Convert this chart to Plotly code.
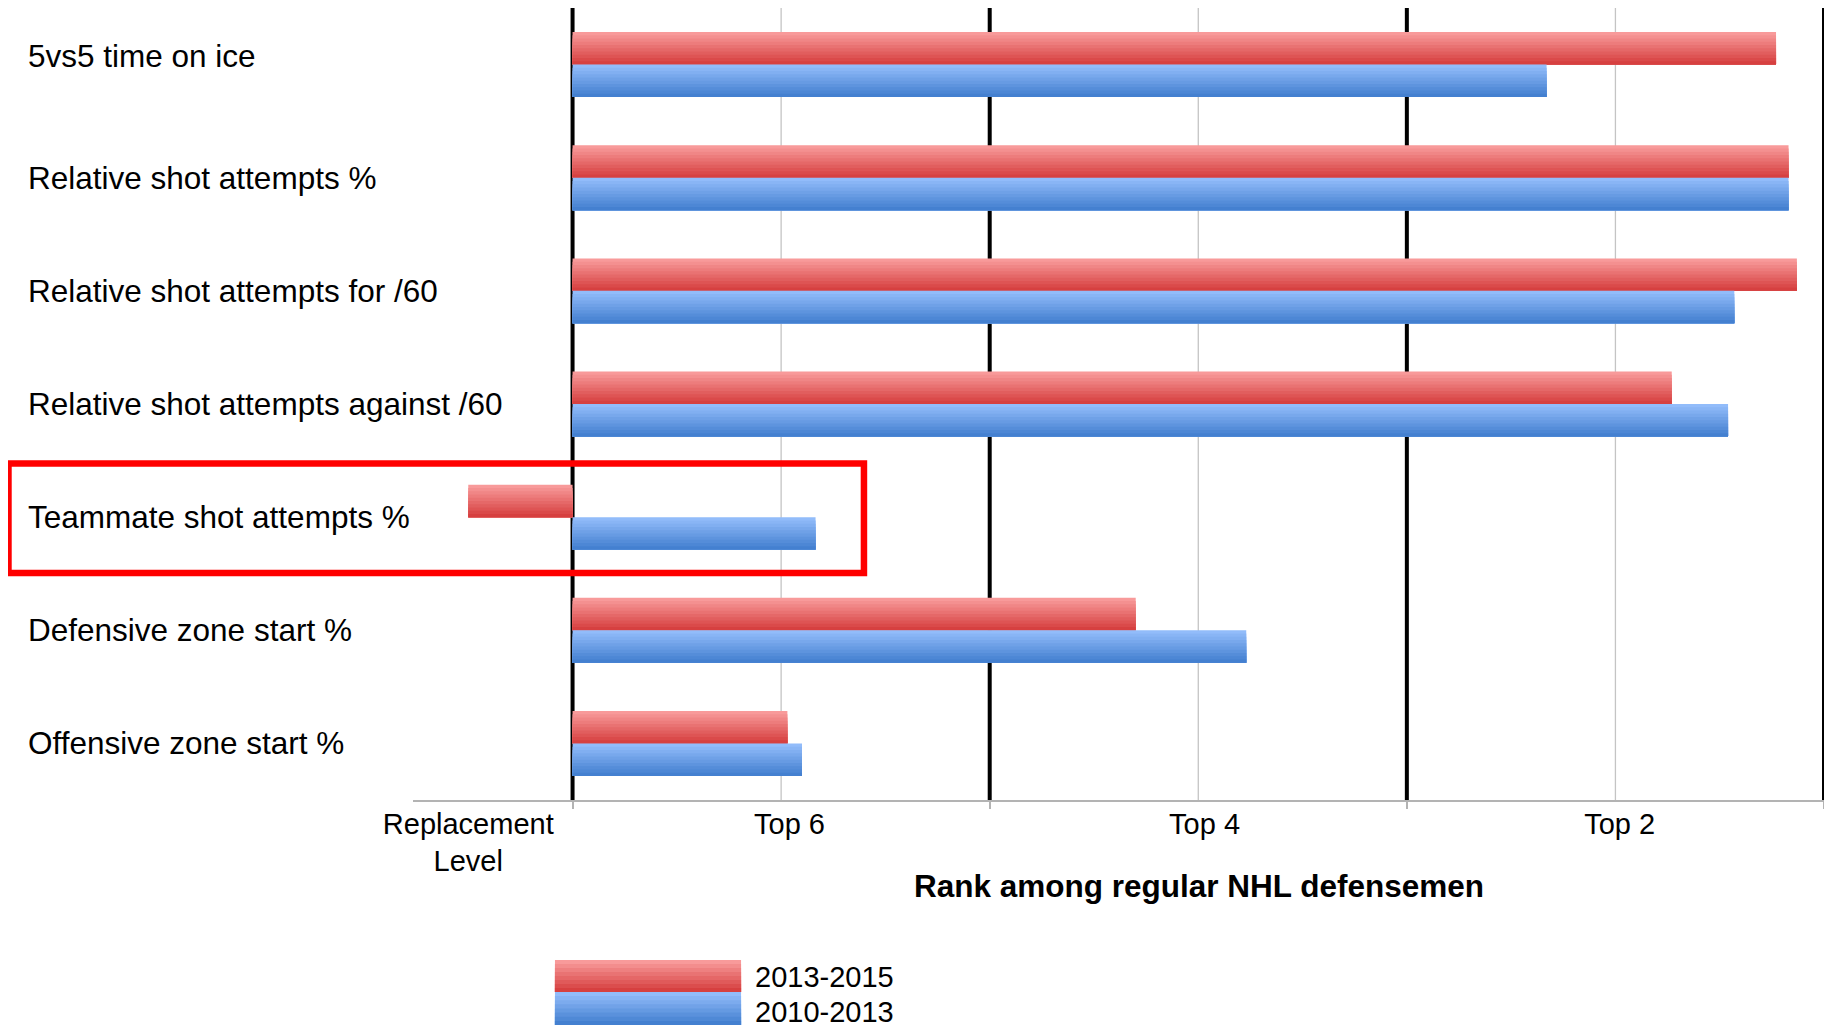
import plotly.graph_objects as go

# ---------------- data ----------------
categories = [
    "5vs5 time on ice",
    "Relative shot attempts %",
    "Relative shot attempts for /60",
    "Relative shot attempts against /60",
    "Teammate shot attempts %",
    "Defensive zone start %",
    "Offensive zone start %",
]
series_names = ["2013-2015", "2010-2013"]
# rank scale: 0 = replacement level, 1 = top 6, 3 = top 4, 5 = top 2
values_2013_2015 = [5.77, 5.83, 5.87, 5.27, -0.50, 2.70, 1.03]
values_2010_2013 = [4.67, 5.83, 5.57, 5.54, 1.165, 3.23, 1.10]

tick_positions = [-0.5, 1.04, 3.03, 5.02]
tick_labels = ["Replacement<br>Level", "Top 6", "Top 4", "Top 2"]
major_lines = [0, 2, 4, 6]
minor_lines = [1, 3, 5]
x_axis_title = "Rank among regular NHL defensemen"

FONT = "Liberation Sans, Arial, sans-serif"

# gradient endpoints (top -> bottom)
red_grad = ((248, 154, 154), (214, 64, 64))
blue_grad = ((146, 188, 250), (68, 128, 208))


def lerp(c0, c1, t):
    return "rgb(%d,%d,%d)" % tuple(round(a + (b - a) * t) for a, b in zip(c0, c1))


fig = go.Figure()

N = 10
H = 0.287  # half group height (y units)
for s, (name, vals, grad, base_off) in enumerate([
    (series_names[0], values_2013_2015, red_grad, -H),
    (series_names[1], values_2010_2013, blue_grad, 0.0),
]):
    for k in range(N):
        fig.add_trace(go.Bar(
            x=vals,
            y=list(range(len(categories))),
            orientation="h",
            offset=base_off + k * H / N,
            width=H - k * H / N,
            marker=dict(color=lerp(grad[0], grad[1], k / (N - 1)), line=dict(width=0)),
            name=name,
            legendgroup=name,
            showlegend=False,
            hovertemplate="%{x}<extra>" + name + "</extra>",
        ))

shapes = []
for v in minor_lines:
    shapes.append(dict(type="line", xref="x", yref="paper", x0=v, x1=v, y0=0, y1=1,
                       line=dict(color="#c4c4c4", width=1.3), layer="below"))
for v in major_lines:
    shapes.append(dict(type="line", xref="x", yref="paper", x0=v, x1=v, y0=0, y1=1,
                       line=dict(color="black", width=4), layer="below"))

# highlight box around "Teammate shot attempts %"
shapes.append(dict(type="rect", xref="paper", yref="paper",
                   x0=-0.2867, x1=0.3196, y0=0.2866, y1=0.4249,
                   line=dict(color="#ff0000", width=6.5), fillcolor="rgba(0,0,0,0)"))

# custom legend swatches (gradient)
legend_rows = [(-0.2020, -0.2424, red_grad), (-0.2424, -0.2841, blue_grad)]
M = 8
for top, bot, grad in legend_rows:
    for k in range(M):
        y_top = top + (bot - top) * k / M
        shapes.append(dict(type="rect", xref="paper", yref="paper",
                           x0=0.1006, x1=0.2325, y0=bot, y1=y_top,
                           line=dict(width=0),
                           fillcolor=lerp(grad[0], grad[1], k / (M - 1))))

annotations = []
for i, cat in enumerate(categories):
    annotations.append(dict(
        text=cat, xref="paper", yref="y", x=-0.2746, y=i,
        xanchor="left", yanchor="middle", showarrow=False,
        yshift=9 if i == 0 else 0,
        font=dict(family=FONT, size=31.5, color="black"),
    ))

annotations.append(dict(
    text="<b>" + x_axis_title + "</b>", xref="paper", yref="paper",
    x=0.557, y=-0.1081, xanchor="center", yanchor="middle", showarrow=False,
    font=dict(family=FONT, size=31.5, color="black"),
))

for name, yc in zip(series_names, [-0.2235, -0.2677]):
    annotations.append(dict(
        text=name, xref="paper", yref="paper", x=0.241, y=yc,
        xanchor="left", yanchor="middle", showarrow=False,
        font=dict(family=FONT, size=29, color="black"),
    ))

fig.update_layout(
    width=1824, height=1020, autosize=False,
    margin=dict(l=405, r=8, t=0, b=228, pad=0),
    paper_bgcolor="white", plot_bgcolor="white",
    barmode="overlay",
    showlegend=False,
    shapes=shapes,
    annotations=annotations,
    font=dict(family=FONT, color="black"),
    xaxis=dict(
        range=[-0.765, 6.0],
        tickvals=tick_positions, ticktext=tick_labels,
        ticks="", showgrid=False, zeroline=False,
        showline=True, linecolor="#b3b3b3", linewidth=1.5,
        ticklabelstandoff=-3,
        tickfont=dict(family=FONT, size=29, color="black"),
        minor=dict(tickvals=major_lines, ticks="outside", ticklen=7,
                   tickcolor="#b3b3b3", tickwidth=1.5, showgrid=False),
    ),
    yaxis=dict(
        range=[len(categories) - 0.5, -0.5],
        showticklabels=False, showgrid=False, zeroline=False, ticks="",
        showline=False,
    ),
)

fig.write_html("out.html")
